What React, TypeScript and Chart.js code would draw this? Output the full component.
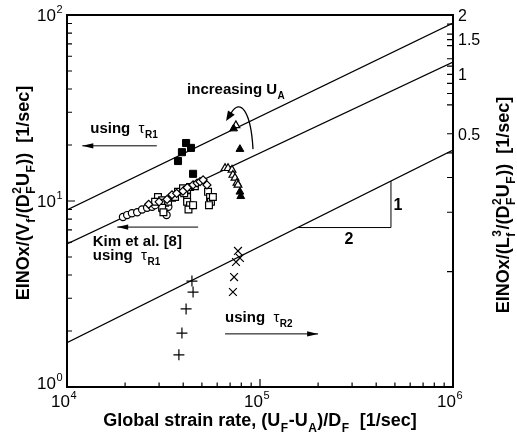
import React, { useEffect, useRef } from "react";
import { Chart, registerables } from "chart.js";

Chart.register(...registerables);

const FONT = '"Liberation Sans", Arial, Helvetica, sans-serif';

// ---- data (x = global strain rate [1/s], y = EINOx/(V_f/(D_F^2 U_F)) [1/s]) ----
const filledSquareX = [37600, 39400, 41400, 43900, 45000];
const filledSquareY = [16.4, 18.3, 20.5, 19.3, 14.0];

const openCircleX = [19500, 20500, 21700, 23100, 24500, 26000, 27600, 28600, 32800, 30500, 31500, 33500];
const openCircleY = [8.2, 8.4, 8.6, 8.7, 9.0, 9.2, 9.3, 9.5, 8.4, 9.8, 8.9, 9.3];

const openSquareX = [29600, 28600, 31100, 32200, 33400, 35000, 36300, 31100, 31600, 37600, 39900, 41900, 43400, 41900, 41900, 43400, 42600, 45000, 53800, 55100, 55700, 54400, 57000, 40500, 46000];
const openSquareY = [10.5, 9.9, 10.1, 9.8, 9.9, 10.4, 10.5, 9.2, 8.7, 11.2, 11.7, 11.5, 11.9, 10.5, 9.9, 9.5, 9.0, 9.5, 11.2, 10.5, 9.9, 9.5, 10.5, 11.0, 12.0];

const openDiamondX = [45000, 47200, 48900, 50700, 53100, 39900, 35000, 26500, 30000, 33000, 37000, 42000];
const openDiamondY = [12.2, 12.5, 12.7, 13.0, 12.2, 11.3, 10.8, 9.6, 9.9, 10.2, 11.0, 11.8];

const openTriangleX = [65900, 68300, 71600, 72400, 74200, 76000, 76900, 75000];
const openTriangleY = [15.0, 15.0, 14.7, 13.8, 13.3, 12.5, 12.2, 25.5];

const filledTriangleX = [73000, 78700, 78700, 79500];
const filledTriangleY = [24.5, 19.0, 11.2, 10.6];

const plusX = [44400, 45000, 41400, 39400, 38000];
const plusY = [3.71, 3.24, 2.63, 1.95, 1.49];

const crossX = [76900, 78700, 75100, 73400, 72400];
const crossY = [5.39, 4.94, 4.70, 3.90, 3.24];

// reference lines (slope 1/2 in log-log)
const lineX = [1e4, 1e6];
const lineTopY = [8.95, 90.6];
const lineMidY = [5.87, 55.9];
const lineBotY = [1.73, 18.8];

// slope triangle legs
const slopeX = [1.57e5, 4.77e5, 4.77e5];
const slopeY = [7.2, 7.2, 12.8];

// ---- axes ----
const xMin = 1e4, xMax = 1e6;
const yMin = 1, yMax = 100;
const rMin = 0.026, rMax = 2;
const xMajorTicks = [1e4, 1e5, 1e6];
const xMajorExp = ["4", "5", "6"];
const yMajorTicks = [1, 10, 100];
const yMajorExp = ["0", "1", "2"];
const minorMultipliers = [2, 3, 4, 5, 6, 7, 8, 9];
const rightTicks = [2, 1.8, 1.6, 1.5, 1.4, 1.2, 1.1, 1, 0.9, 0.8, 0.7, 0.5, 0.4, 0.3, 0.2, 0.1];
const rightLabelValues = [2, 1.5, 1, 0.5];
const rightLabelTexts = ["2", "1.5", "1", "0.5"];

type Seg = { t?: string; b?: string; p?: string; w?: string };

function fnt(weight: string, size: number) {
  return `${weight} ${size}px ${FONT}`;
}

function segWidth(ctx: CanvasRenderingContext2D, s: Seg, size: number, weight: string) {
  const w = s.w || weight;
  if (s.t !== undefined) {
    ctx.font = fnt(w, size);
    return ctx.measureText(s.t).width;
  }
  ctx.font = fnt(w, Math.round(size * 0.64));
  const bw = s.b ? ctx.measureText(s.b).width : 0;
  const pw = s.p ? ctx.measureText(s.p).width : 0;
  return Math.max(bw, pw) + 1;
}

function drawRich(
  ctx: CanvasRenderingContext2D,
  segs: Seg[],
  x: number,
  yMid: number,
  size: number,
  weight: string,
  align: "left" | "center" | "right"
) {
  let total = 0;
  for (const s of segs) total += segWidth(ctx, s, size, weight);
  let cx = align === "left" ? x : align === "center" ? x - total / 2 : x - total;
  const base = yMid + size * 0.36;
  ctx.textAlign = "left";
  ctx.textBaseline = "alphabetic";
  for (const s of segs) {
    const w = s.w || weight;
    const sw = segWidth(ctx, s, size, weight);
    if (s.t !== undefined) {
      ctx.font = fnt(w, size);
      ctx.fillText(s.t, cx, base);
    } else {
      ctx.font = fnt(w, Math.round(size * 0.64));
      if (s.b) ctx.fillText(s.b, cx + 0.5, base + size * 0.3);
      if (s.p) ctx.fillText(s.p, cx + 0.5, base - size * 0.45);
    }
    cx += sw;
  }
}

function arrowHead(ctx: CanvasRenderingContext2D, fx: number, fy: number, tx: number, ty: number, len: number, half: number) {
  const ang = Math.atan2(ty - fy, tx - fx);
  ctx.beginPath();
  ctx.moveTo(tx, ty);
  ctx.lineTo(tx - len * Math.cos(ang) + half * Math.sin(ang), ty - len * Math.sin(ang) - half * Math.cos(ang));
  ctx.lineTo(tx - len * Math.cos(ang) - half * Math.sin(ang), ty - len * Math.sin(ang) + half * Math.cos(ang));
  ctx.closePath();
  ctx.fill();
}

function arrow(ctx: CanvasRenderingContext2D, x1: number, y1: number, x2: number, y2: number) {
  ctx.beginPath();
  ctx.moveTo(x1, y1);
  ctx.lineTo(x2, y2);
  ctx.stroke();
  arrowHead(ctx, x1, y1, x2, y2, 11, 2.6);
}

// annotation anchors in data coordinates
const noteUsingR1Top = { x: 1.32e4, y: 24.7 };
const arrowR1Top = { x1: 2.92e4, x2: 1.2e4, y: 19.8 };
const noteIncreasing = { x: 4.19e4, y: 40.0 };
const curveArrow = { x: [9.2e4, 8.97e4, 7.87e4, 7.08e4, 6.67e4], y: [19.0, 30.8, 35.8, 29.7, 26.9] };
const noteKim = { x: 1.36e4, y: 6.1 };
const noteKimUsing = { x: 1.36e4, y: 5.13 };
const arrowKim = { x1: 4.78e4, x2: 1.82e4, y: 7.24 };
const noteUsingR2 = { x: 6.59e4, y: 2.38 };
const arrowR2 = { x1: 6.59e4, x2: 2.0e5, y: 1.93 };
const noteOne = { x: 5.19e5, y: 9.63 };
const noteTwo = { x: 2.89e5, y: 6.32 };

const decorPlugin = {
  id: "decor",
  afterDraw(chart: any) {
    const ctx: CanvasRenderingContext2D = chart.ctx;
    const a = chart.chartArea;
    const sx = chart.scales.x, sy = chart.scales.y, sr = chart.scales.y2;
    const X = (v: number) => sx.getPixelForValue(v);
    const Y = (v: number) => sy.getPixelForValue(v);
    const R = (v: number) => sr.getPixelForValue(v);
    ctx.save();
    ctx.strokeStyle = "#000";
    ctx.fillStyle = "#000";

    // frame
    ctx.lineWidth = 2;
    ctx.strokeRect(a.left, a.top, a.right - a.left, a.bottom - a.top);

    // ticks (inward)
    ctx.lineWidth = 1.2;
    ctx.beginPath();
    yMajorTicks.forEach((v, i) => {
      const py = Y(v);
      ctx.moveTo(a.left, py); ctx.lineTo(a.left + 8, py);
      if (i < yMajorTicks.length - 1) {
        minorMultipliers.forEach((m) => {
          const q = Y(v * m);
          ctx.moveTo(a.left, q); ctx.lineTo(a.left + 5, q);
        });
      }
    });
    xMajorTicks.forEach((v, i) => {
      const px = X(v);
      ctx.moveTo(px, a.bottom); ctx.lineTo(px, a.bottom - 8);
      if (i < xMajorTicks.length - 1) {
        minorMultipliers.forEach((m) => {
          const q = X(v * m);
          ctx.moveTo(q, a.bottom); ctx.lineTo(q, a.bottom - 4.5);
        });
      }
    });
    rightTicks.forEach((v) => {
      const py = R(v);
      ctx.moveTo(a.right, py); ctx.lineTo(a.right - 6, py);
    });
    ctx.stroke();

    // tick labels
    yMajorTicks.forEach((v, i) => {
      drawRich(ctx, [{ t: "10" }, { p: yMajorExp[i] }], a.left - 4, Y(v) - (i === 0 ? 4 : 0), 17, "normal", "right");
    });
    xMajorTicks.forEach((v, i) => {
      drawRich(ctx, [{ t: "10" }, { p: xMajorExp[i] }], X(v) - 3, a.bottom + 14, 17, "normal", "center");
    });
    rightLabelValues.forEach((v, i) => {
      drawRich(ctx, [{ t: rightLabelTexts[i] }], a.right + 5, R(v), 16, "normal", "left");
    });

    // axis titles
    drawRich(
      ctx,
      [{ t: "Global strain rate, (U" }, { b: "F" }, { t: "-U" }, { b: "A" }, { t: ")/D" }, { b: "F" }, { t: "  [1/sec]" }],
      (a.left + a.right) / 2,
      a.bottom + 33,
      18,
      "bold",
      "center"
    );
    ctx.save();
    ctx.translate(23, (a.top + a.bottom) / 2 - 8);
    ctx.rotate(-Math.PI / 2);
    drawRich(
      ctx,
      [{ t: "EINOx/(V" }, { b: "f" }, { t: "/(D" }, { b: "F", p: "2" }, { t: "U" }, { b: "F" }, { t: "))  [1/sec]" }],
      0, 0, 18, "bold", "center"
    );
    ctx.restore();
    ctx.save();
    ctx.translate(503, (a.top + a.bottom) / 2 + 4);
    ctx.rotate(-Math.PI / 2);
    drawRich(
      ctx,
      [{ t: "EINOx/(L" }, { b: "f", p: "3" }, { t: "/(D" }, { b: "F", p: "2" }, { t: "U" }, { b: "F" }, { t: "))  [1/sec]" }],
      0, 0, 18, "bold", "center"
    );
    ctx.restore();

    // annotations
    const tauSeg = (sub: string): Seg[] => [{ t: "using  " }, { t: "τ", w: "normal" }, { b: sub }];
    drawRich(ctx, tauSeg("R1"), X(noteUsingR1Top.x), Y(noteUsingR1Top.y), 15, "bold", "left");
    ctx.lineWidth = 1;
    arrow(ctx, X(arrowR1Top.x1), Y(arrowR1Top.y), X(arrowR1Top.x2), Y(arrowR1Top.y));

    drawRich(ctx, [{ t: "increasing U" }, { b: "A" }], X(noteIncreasing.x), Y(noteIncreasing.y), 15, "bold", "left");
    const cx = curveArrow.x.map(X), cy = curveArrow.y.map(Y);
    ctx.lineWidth = 1.3;
    ctx.beginPath();
    ctx.moveTo(cx[0], cy[0]);
    ctx.bezierCurveTo(cx[1], cy[1], cx[2], cy[2], cx[3], cy[3]);
    ctx.stroke();
    arrowHead(ctx, cx[3], cy[3], cx[4], cy[4], 10, 4);

    drawRich(ctx, [{ t: "Kim et al. [8]" }], X(noteKim.x), Y(noteKim.y), 15, "bold", "left");
    drawRich(ctx, tauSeg("R1"), X(noteKimUsing.x), Y(noteKimUsing.y), 15, "bold", "left");
    ctx.lineWidth = 1;
    arrow(ctx, X(arrowKim.x1), Y(arrowKim.y), X(arrowKim.x2), Y(arrowKim.y));

    drawRich(ctx, tauSeg("R2"), X(noteUsingR2.x), Y(noteUsingR2.y), 15, "bold", "left");
    arrow(ctx, X(arrowR2.x1), Y(arrowR2.y), X(arrowR2.x2), Y(arrowR2.y));

    drawRich(ctx, [{ t: "1" }], X(noteOne.x), Y(noteOne.y), 16, "bold", "center");
    drawRich(ctx, [{ t: "2" }], X(noteTwo.x), Y(noteTwo.y), 16, "bold", "center");

    ctx.restore();
  },
};

function pts(xs: number[], ys: number[]) {
  return xs.map((x, i) => ({ x, y: ys[i] }));
}

function markers(xs: number[], ys: number[], style: string, r: number, fill: string, bw = 1) {
  return {
    data: pts(xs, ys),
    pointStyle: style,
    pointRadius: r,
    pointBackgroundColor: fill,
    pointBorderColor: "#000",
    pointBorderWidth: bw,
    showLine: false,
  };
}

function line(xs: number[], ys: number[], w = 1.2) {
  return {
    data: pts(xs, ys),
    showLine: true,
    borderColor: "#000",
    borderWidth: w,
    pointRadius: 0,
    fill: false,
    tension: 0,
  };
}

export default function App() {
  const ref = useRef<HTMLCanvasElement>(null);
  useEffect(() => {
    document.body.style.margin = "0";
    const chart = new Chart(ref.current as HTMLCanvasElement, {
      type: "scatter",
      data: {
        datasets: [
          markers(filledSquareX, filledSquareY, "rect", 5, "#000"),
          markers(filledTriangleX, filledTriangleY, "triangle", 4.5, "#000"),
          markers(openTriangleX, openTriangleY, "triangle", 4.5, "#fff", 1.2),
          markers(openDiamondX, openDiamondY, "rectRot", 4, "#fff", 1.2),
          markers(openSquareX, openSquareY, "rect", 4.8, "#fff", 1.2),
          markers(openCircleX, openCircleY, "circle", 3.6, "#fff", 1.2),
          markers(plusX, plusY, "cross", 5.5, "#000", 1.2),
          markers(crossX, crossY, "crossRot", 5.5, "#000", 1.2),
          line(lineX, lineTopY),
          line(lineX, lineMidY),
          line(lineX, lineBotY),
          line(slopeX, slopeY, 1),
        ] as any,
      },
      options: {
        animation: false,
        responsive: false,
        events: [],
        layout: { padding: { left: 67, right: 64, top: 15, bottom: 46 } },
        plugins: { legend: { display: false }, tooltip: { enabled: false } },
        scales: {
          x: { type: "logarithmic", min: xMin, max: xMax, display: false },
          y: { type: "logarithmic", min: yMin, max: yMax, display: false },
          y2: { type: "logarithmic", min: rMin, max: rMax, display: false, position: "right" },
        },
      } as any,
      plugins: [decorPlugin],
    });
    return () => chart.destroy();
  }, []);
  return (
    <div style={{ width: 517, height: 433 }}>
      <canvas ref={ref} width={517} height={433} style={{ display: "block" }} />
    </div>
  );
}
